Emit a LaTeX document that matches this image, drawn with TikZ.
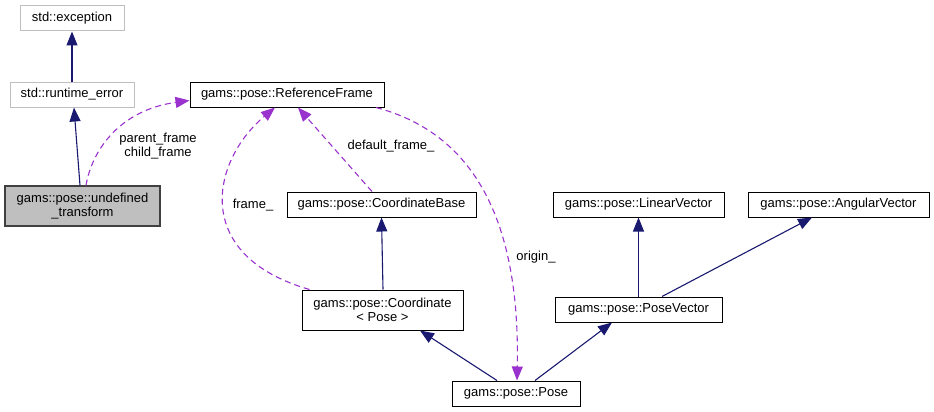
\documentclass[tikz,border=0pt]{standalone}
\usepackage{fontspec}
\setmainfont{Liberation Sans}
\usetikzlibrary{arrows.meta}
\definecolor{mblue}{HTML}{191970}
\definecolor{dorchid}{HTML}{9A32CD}
\definecolor{lgrey}{HTML}{BFBFBF}
\definecolor{dgrey}{HTML}{404040}
\tikzset{
  box/.style={draw=black, line width=1pt, fill=white, inner sep=0pt, align=center, font=\fontsize{13}{14.5}\selectfont},
  extbox/.style={box, draw=lgrey},
  curbox/.style={box, draw=dgrey, fill=lgrey, line width=1.2pt},
  inh/.style={draw=mblue, line width=1.1pt, -{Triangle[length=14pt,width=11pt]}},
  dep/.style={draw=dorchid, line width=1.1pt, dash pattern=on 6pt off 4pt, -{Triangle[length=14pt,width=11pt]}},
  lbl/.style={inner sep=0pt, align=center, font=\fontsize{13}{14.5}\selectfont}
}
\begin{document}
\begin{tikzpicture}[x=1pt,y=-1pt]
\useasboundingbox (0,0) rectangle (934,412);
\node[extbox, minimum width=104pt, minimum height=25pt] (exc) at (72,18.5) {std::exception};
\node[extbox, minimum width=124pt, minimum height=25pt] (rte) at (72,94.5) {std::runtime\_error};
\node[curbox, minimum width=155pt, minimum height=40pt] (ut) at (82.5,206) {gams::pose::undefined\\\_transform};
\node[box, minimum width=194pt, minimum height=25pt] (rf) at (287,94.5) {gams::pose::ReferenceFrame};
\node[box, minimum width=189pt, minimum height=25pt] (cb) at (381.5,204.5) {gams::pose::CoordinateBase};
\node[box, minimum width=161pt, minimum height=40pt] (co) at (382.5,310) {gams::pose::Coordinate\\{<} Pose {>}};
\node[box, minimum width=128pt, minimum height=25pt] (po) at (516,393.5) {gams::pose::Pose};
\node[box, minimum width=167pt, minimum height=25pt] (pv) at (638.5,309.5) {gams::pose::PoseVector};
\node[box, minimum width=171pt, minimum height=25pt] (lv) at (638.5,204.5) {gams::pose::LinearVector};
\node[box, minimum width=181pt, minimum height=25pt] (av) at (838.5,204.5) {gams::pose::AngularVector};

% inheritance
\draw[inh] (rte.north) -- (exc.south);
\draw[inh] ([xshift=-2.5pt]ut.north) -- ([xshift=2pt]rte.south);
\draw[inh] ([xshift=0.5pt]co.north) -- (cb.south);
\draw[inh] ([xshift=-19pt]po.north) -- ([xshift=37.5pt]co.south);
\draw[inh] ([xshift=19pt]po.north) -- ([xshift=-26.5pt]pv.south);
\draw[inh] (pv.north) -- (lv.south);
\draw[inh] ([xshift=23.5pt]pv.north) -- ([xshift=-26.5pt]av.south);

% usage
\draw[dep] ([xshift=3.5pt]ut.north) .. controls (92,150) and (120,110) .. ([yshift=-6pt]rf.west);
\draw[dep] ([xshift=8pt]co.north west) .. controls (190,255) and (212,160) .. ([xshift=-12pt]rf.south);
\draw[dep] ([xshift=-9.5pt]cb.north) -- ([xshift=11pt]rf.south);
\draw[dep] ([xshift=89pt]rf.south) .. controls (480,135) and (520,230) .. ([xshift=1pt]po.north);

\node[lbl] (l1) at (158,146) {parent\_frame\\child\_frame};
\node[lbl] (l2) at (253,205) {frame\_};
\node[lbl] (l3) at (391,146) {default\_frame\_};
\node[lbl] (l4) at (536,257) {origin\_};
\end{tikzpicture}
\end{document}
